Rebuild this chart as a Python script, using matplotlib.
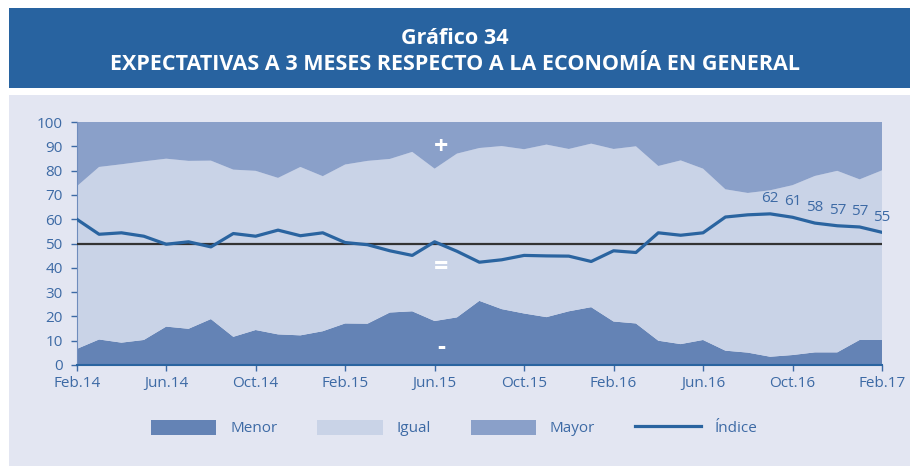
import numpy as np
import matplotlib.pyplot as plt
from matplotlib.patches import Rectangle, Patch
from matplotlib.lines import Line2D

# --- datos (porcentaje de respuestas, Feb.14 a Feb.17) ---
meses = ["Feb.14", "Mar.14", "Abr.14", "May.14", "Jun.14", "Jul.14", "Ago.14", "Sep.14",
         "Oct.14", "Nov.14", "Dic.14", "Ene.15", "Feb.15", "Mar.15", "Abr.15", "May.15",
         "Jun.15", "Jul.15", "Ago.15", "Sep.15", "Oct.15", "Nov.15", "Dic.15", "Ene.16",
         "Feb.16", "Mar.16", "Abr.16", "May.16", "Jun.16", "Jul.16", "Ago.16", "Sep.16",
         "Oct.16", "Nov.16", "Dic.16", "Ene.17", "Feb.17"]

menor = [6.6, 10.5, 9.2, 10.3, 15.8, 14.9, 18.9, 11.6, 14.4, 12.6, 12.2, 13.9,
         17.1, 17.0, 21.6, 22.1, 18.1, 19.6, 26.4, 23.0, 21.2, 19.7, 22.1, 23.8,
         17.9, 17.1, 10.0, 8.6, 10.3, 5.9, 5.1, 3.4, 4.1, 5.2, 5.2, 10.3, 10.3]

igual = [66.9, 71.0, 73.4, 73.5, 69.1, 69.1, 65.2, 68.8, 65.5, 64.4, 69.3, 63.8,
         65.4, 67.0, 63.2, 65.6, 62.7, 67.4, 62.9, 67.1, 67.6, 71.0, 66.8, 67.3,
         71.0, 72.9, 71.9, 75.6, 70.5, 66.4, 65.7, 68.5, 69.9, 72.6, 74.7, 66.1, 69.8]

mayor = [26.5, 18.5, 17.4, 16.2, 15.1, 16.0, 15.9, 19.6, 20.1, 23.0, 18.5, 22.3,
         17.5, 16.0, 15.2, 12.3, 19.2, 13.0, 10.7, 9.9, 11.2, 9.3, 11.1, 8.9,
         11.1, 10.0, 18.1, 15.8, 19.2, 27.7, 29.2, 28.1, 26.0, 22.2, 20.1, 23.6, 19.9]

indice = [60.0, 53.8, 54.4, 53.0, 49.7, 50.7, 48.6, 54.1, 53.0, 55.5, 53.2, 54.4,
          50.4, 49.5, 47.0, 45.1, 50.7, 46.8, 42.3, 43.3, 45.1, 44.9, 44.8, 42.6,
          47.0, 46.3, 54.4, 53.4, 54.4, 60.9, 61.8, 62.2, 60.8, 58.4, 57.3, 56.8, 54.6]

n_etiquetas = 6  # ultimos meses con valor rotulado

C_MENOR = "#6483b5"
C_IGUAL = "#c9d3e7"
C_MAYOR = "#8aa0c9"
C_LINEA = "#2a64a0"
C_TEXTO = "#3d6aa5"
C_FONDO = "#e3e6f2"
C_BANNER = "#2863a0"

plt.rcParams['font.family'] = ['Open Sans', 'DejaVu Sans']

fig = plt.figure(figsize=(9.10, 4.66), dpi=100)
W, H = 910, 466

# banner y panel de fondo
fig.patches.append(Rectangle((9 / W, 1 - 88 / H), 901 / W, 80 / H, transform=fig.transFigure,
                             facecolor=C_BANNER, edgecolor="none", zorder=-10))
fig.patches.append(Rectangle((9 / W, 0), 901 / W, 1 - 95 / H, transform=fig.transFigure,
                             facecolor=C_FONDO, edgecolor="none", zorder=-10))
fig.text(0.5, 1 - 38 / H, "Gráfico 34", ha="center", va="center", color="white",
         fontsize=15.5, fontweight="bold")
fig.text(0.5, 1 - 64 / H, "EXPECTATIVAS A 3 MESES RESPECTO A LA ECONOMÍA EN GENERAL",
         ha="center", va="center", color="white", fontsize=15.5, fontweight="bold")

ax = fig.add_axes([76.7 / W, 1 - 365 / H, (882 - 76.7) / W, (365 - 122) / H])
ax.set_facecolor(C_FONDO)
x = np.arange(len(meses))

ax.stackplot(x, menor, igual, mayor, colors=[C_MENOR, C_IGUAL, C_MAYOR], linewidth=0)
ax.axhline(50, color="#333333", lw=1.6, zorder=3)
ax.plot(x, indice, color=C_LINEA, lw=2.3, zorder=4)

for i in range(len(meses) - n_etiquetas, len(meses)):
    ax.annotate(f"{indice[i]:.0f}", (x[i], indice[i]), xytext=(0, 11), textcoords="offset points",
                ha="center", va="center", color=C_TEXTO, fontsize=11)

ax.text(16.3, 89.5, "+", ha="center", va="center", color="white", fontsize=18, fontweight="bold")
ax.text(16.3, 40, "=", ha="center", va="center", color="white", fontsize=18, fontweight="bold")
ax.text(16.3, 7.2, "-", ha="center", va="center", color="white", fontsize=18, fontweight="bold")

ax.set_xlim(0, len(meses) - 1)
ax.set_ylim(0, 100)
ax.set_yticks(range(0, 101, 10))
ax.set_xticks(x[::4])
ax.set_xticklabels(meses[::4])
ax.tick_params(axis="both", colors=C_TEXTO, labelsize=11, length=4, width=1)
ax.tick_params(axis="y", pad=6)
ax.tick_params(axis="x", pad=4)
for s in ["top", "right"]:
    ax.spines[s].set_visible(False)
ax.spines["left"].set_color("#6f8cbd")
ax.spines["bottom"].set_color(C_LINEA)
ax.spines["bottom"].set_linewidth(1.5)

handles = [Patch(facecolor=C_MENOR, label="Menor"),
           Patch(facecolor=C_IGUAL, label="Igual"),
           Patch(facecolor=C_MAYOR, label="Mayor"),
           Line2D([], [], color=C_LINEA, lw=2.3, label="Índice")]
leg = fig.legend(handles=handles, loc="center", bbox_to_anchor=(454 / W, 1 - 428 / H), ncol=4,
                 frameon=False, fontsize=11, handlelength=4.3, handleheight=1.2,
                 handletextpad=0.9, columnspacing=2.6)
for t in leg.get_texts():
    t.set_color(C_TEXTO)

fig.savefig("out.png", dpi=100)
